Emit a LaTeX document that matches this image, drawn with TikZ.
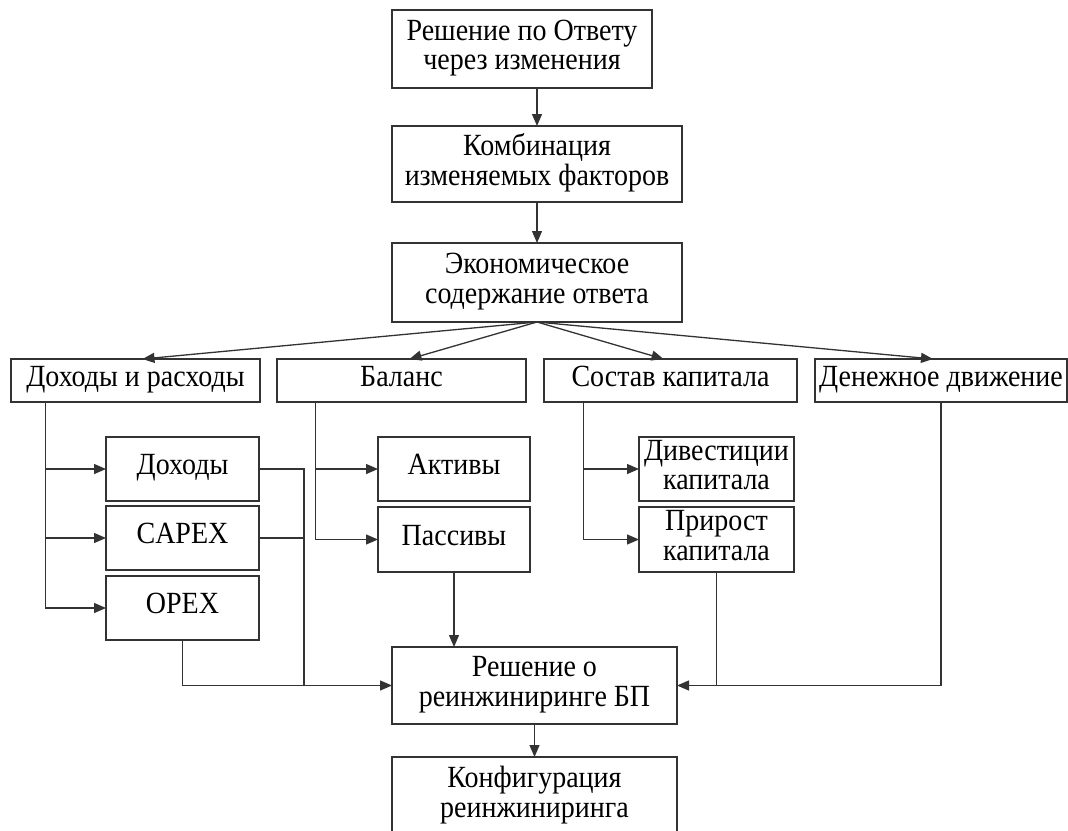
\documentclass[tikz,border=0pt]{standalone}
\usepackage{fontspec}
\usepackage{graphicx}
\setmainfont{Liberation Serif}
\usetikzlibrary{arrows.meta,calc}
% box text: centred lines, slightly tall letter forms
\newcommand{\tx}[1]{\scalebox{1}[1.1]{\fontsize{28}{27}\selectfont\begin{tabular}{@{}c@{}}#1\end{tabular}}}
\begin{document}
\begin{tikzpicture}[x=1pt,y=-1pt,
  box/.style={draw=black!80, line width=1.3pt, rectangle, inner sep=0pt, outer sep=0pt},
  link/.style={draw=black!80, line width=1.3pt},
  arr/.style={link, -{Triangle[length=12pt,width=10pt]}}]
\useasboundingbox (0,0) rectangle (1068,830);
\clip (0,0) rectangle (1068,830);
\fill[white] (0,0) rectangle (1068,830);

% main chain
\node[box, minimum width=260pt, minimum height=78pt] (b1) at (522,49) {\tx{Решение по Ответу\\через изменения}};
\node[box, minimum width=290pt, minimum height=76pt] (b2) at (537,164) {\tx{Комбинация\\изменяемых факторов}};
\node[box, minimum width=290pt, minimum height=79pt] (b3) at (537,282.5) {\tx{Экономическое\\содержание ответа}};

% four aspects
\node[box, minimum width=249pt, minimum height=43pt] (dr)  at (135.5,380.5) {\tx{Доходы и расходы}};
\node[box, minimum width=249pt, minimum height=43pt] (bal) at (401.5,380.5) {\tx{Баланс}};
\node[box, minimum width=253pt, minimum height=43pt] (sk)  at (670.5,380.5) {\tx{Состав капитала}};
\node[box, minimum width=252pt, minimum height=43pt] (dd)  at (941,380.5) {\tx{Денежное движение}};

% details
\node[box, minimum width=153pt, minimum height=64pt] (doh)   at (182.5,469) {\tx{Доходы}};
\node[box, minimum width=153pt, minimum height=64pt] (capex) at (182.5,538) {\tx{CAPEX}};
\node[box, minimum width=153pt, minimum height=64pt] (opex)  at (182.5,608) {\tx{OPEX}};
\node[box, minimum width=152pt, minimum height=64pt] (akt)   at (454,469) {\tx{Активы}};
\node[box, minimum width=152pt, minimum height=65pt] (pas)   at (454,539.5) {\tx{Пассивы}};
\node[box, minimum width=155pt, minimum height=64pt] (div)   at (716.5,469) {\tx{Дивестиции\\капитала}};
\node[box, minimum width=155pt, minimum height=65pt] (pri)   at (716.5,539.5) {\tx{Прирост\\капитала}};

% decision and configuration
\node[box, minimum width=285pt, minimum height=77pt] (res)  at (534.5,685.5) {\tx{Решение о\\реинжиниринге БП}};
\node[box, minimum width=285pt, minimum height=78pt] (konf) at (534.5,796) {\tx{Конфигурация\\реинжиниринга}};

% chain arrows
\draw[arr] (b1.south -| b2.north) -- (b2.north);
\draw[arr] (b2.south) -- (b3.north);
\draw[arr] (b3.south) -- ([xshift=7pt]dr.north);
\draw[arr] (b3.south) -- ([xshift=8pt]bal.north);
\draw[arr] (b3.south) -- ([xshift=-7pt]sk.north);
\draw[arr] (b3.south) -- ([xshift=-8pt]dd.north);

% branch trunks
\coordinate (tA) at ([xshift=34.5pt]dr.south west);
\coordinate (tB) at ([xshift=38.4pt]bal.south west);
\coordinate (tC) at ([xshift=39.4pt]sk.south west);
\draw[arr] (tA) |- (opex.west);
\draw[arr] (tA |- doh.west) -- (doh.west);
\draw[arr] (tA |- capex.west) -- (capex.west);
\draw[arr] (tB) |- (pas.west);
\draw[arr] (tB |- akt.west) -- (akt.west);
\draw[arr] (tC) |- (pri.west);
\draw[arr] (tC |- div.west) -- (div.west);

% collectors into the decision
\coordinate (cL) at ([xshift=45pt]doh.east);
\draw[link] (doh.east) -- (cL) -- (cL |- res.west);
\draw[link] (capex.east) -- (cL |- capex.east);
\draw[arr] (opex.south) |- (res.west);
\draw[arr] (pas.south) -- (pas.south |- res.north);
\draw[arr] (pri.south) |- (res.east);
\draw[link] (dd.south) |- (pri.south |- res.east);
\draw[arr] (res.south) -- (konf.north);
\end{tikzpicture}
\end{document}
